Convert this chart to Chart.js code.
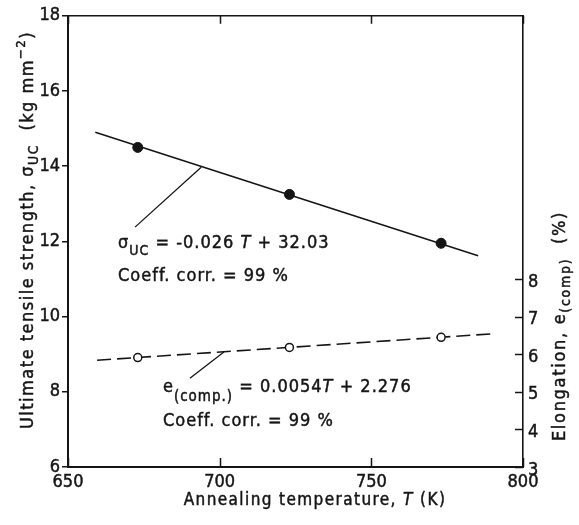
<!DOCTYPE html>
<html>
<head>
<meta charset="utf-8">
<script src="https://cdn.jsdelivr.net/npm/chart.js@4.4.1/dist/chart.umd.min.js"></script>
<style>
  html, body { margin: 0; padding: 0; background: #fff; }
  #wrap { width: 579px; height: 525px; }
</style>
</head>
<body>
<div id="wrap"><canvas id="c" width="579" height="525"></canvas></div>
<script>
const FONT = '"DejaVu Sans Condensed", "Liberation Sans Narrow", "DejaVu Sans", sans-serif';
const INK = '#151515';

// Measured points: annealing temperature (K) vs strength / elongation
const temperatureK = [673, 723, 773];
const strengthUC = [14.5, 13.25, 11.95];        // kg mm^-2
const elongationPct = [5.91, 6.18, 6.45];       // %

// Regression lines (end points)
const strengthFitT = [659, 785.2];
const strengthFitV = [14.90, 11.62];
const elongFitT = [659.6, 789.5];
const elongFitV = [5.84, 6.54];

// Leader lines from the equations to their lines
const strengthLeaderT = [672.1, 693.9];
const strengthLeaderV = [12.38, 13.97];
const elongLeaderT = [690.2, 701.4];
const elongLeaderV = [5.36, 6.06];

// Tick labels
const xTickValues = [650, 700, 750, 800];
const strengthTickValues = [6, 8, 10, 12, 14, 16, 18];
const elongTickValues = [3, 4, 5, 6, 7, 8];

const pts = (xs, ys) => xs.map((x, i) => ({ x, y: ys[i] }));
const setTicks = vals => scale => { scale.ticks = vals.map(v => ({ value: v })); };

function runsWidth(ctx, runs) {
  let w = 0;
  for (const r of runs) { ctx.font = r.font; w += ctx.measureText(r.t).width; }
  return w;
}
function drawRuns(ctx, x, y, runs) {
  let cx = x;
  for (const r of runs) {
    ctx.font = r.font;
    ctx.fillText(r.t, cx, y + (r.dy || 0));
    ctx.strokeText(r.t, cx, y + (r.dy || 0));
    cx += ctx.measureText(r.t).width;
  }
}
const F = (size, style) => (style ? style + ' ' : '') + size + 'px ' + FONT;

const decorations = {
  id: 'decorations',
  afterDraw(chart) {
    const { ctx, chartArea: a, scales } = chart;
    const sx = scales.x, sy = scales.y, sy2 = scales.y2;
    ctx.save();
    ctx.strokeStyle = INK;
    ctx.fillStyle = INK;
    ctx.lineWidth = 1.5;

    // inward ticks on bottom and top edges
    for (const v of xTickValues) {
      const px = Math.round(sx.getPixelForValue(v)) + 0.5;
      ctx.beginPath();
      ctx.moveTo(px, a.bottom); ctx.lineTo(px, a.bottom - 9);
      ctx.moveTo(px, a.top); ctx.lineTo(px, a.top + 8);
      ctx.stroke();
    }
    // inward ticks on the elongation axis
    for (const v of elongTickValues) {
      const py = Math.round(sy2.getPixelForValue(v)) + 0.5;
      ctx.beginPath();
      ctx.moveTo(a.right, py); ctx.lineTo(a.right - 8, py);
      ctx.stroke();
    }

    ctx.textBaseline = 'alphabetic';
    ctx.textAlign = 'left';
    ctx.lineWidth = 0.45;
    try { ctx.letterSpacing = '1px'; } catch (e) {}

    // strength equation
    let x0 = sx.getPixelForValue(666.5), y0 = sy.getPixelForValue(11.83);
    drawRuns(ctx, x0, y0, [
      { t: '\u03C3', font: F(18) },
      { t: 'UC', font: F(14), dy: 7 },
      { t: ' = -0.026 ', font: F(18) },
      { t: 'T', font: F(18, 'italic') },
      { t: ' + 32.03', font: F(18) }
    ]);
    drawRuns(ctx, x0, y0 + 33, [{ t: 'Coeff. corr. = 99 %', font: F(18) }]);

    // elongation equation
    x0 = sx.getPixelForValue(681.3); y0 = sy.getPixelForValue(8.0);
    drawRuns(ctx, x0, y0, [
      { t: 'e', font: F(18) },
      { t: '(comp.)', font: F(15), dy: 9 },
      { t: ' = 0.0054', font: F(18) },
      { t: 'T', font: F(18, 'italic') },
      { t: ' + 2.276', font: F(18) }
    ]);
    drawRuns(ctx, x0, y0 + 34, [{ t: 'Coeff. corr. = 99 %', font: F(18) }]);

    try { ctx.letterSpacing = '1.4px'; } catch (e) {}
    // x axis title
    let runs = [
      { t: 'Annealing temperature, ', font: F(17) },
      { t: 'T', font: F(17, 'italic') },
      { t: ' (K)', font: F(17) }
    ];
    let w = runsWidth(ctx, runs);
    drawRuns(ctx, 315 - w / 2, 505, runs);

    // left axis title
    try { ctx.letterSpacing = '1.5px'; } catch (e) {}
    runs = [
      { t: 'Ultimate tensile strength, ', font: F(18) },
      { t: '\u03C3', font: F(18) },
      { t: 'UC', font: F(14), dy: 5 },
      { t: '  (kg mm', font: F(18) },
      { t: '\u22122', font: F(13), dy: -8 },
      { t: ')', font: F(18) }
    ];
    w = runsWidth(ctx, runs);
    ctx.save();
    ctx.translate(33, 230);
    ctx.rotate(-Math.PI / 2);
    drawRuns(ctx, -w / 2, 0, runs);
    ctx.restore();

    // right axis title
    try { ctx.letterSpacing = '1.7px'; } catch (e) {}
    runs = [
      { t: 'Elongation, e', font: F(18) },
      { t: '(comp)', font: F(14), dy: 5 },
      { t: '  (%)', font: F(18) }
    ];
    w = runsWidth(ctx, runs);
    ctx.save();
    ctx.translate(565, 326);
    ctx.rotate(-Math.PI / 2);
    drawRuns(ctx, -w / 2, 0, runs);
    ctx.restore();

    ctx.restore();
  }
};

const tickFont = { family: FONT, size: 18 };

new Chart(document.getElementById('c'), {
  type: 'scatter',
  data: {
    datasets: [
      {
        data: pts(temperatureK, strengthUC), yAxisID: 'y',
        pointRadius: 5, pointBackgroundColor: INK, pointBorderColor: INK, pointBorderWidth: 1
      },
      {
        data: pts(temperatureK, elongationPct), yAxisID: 'y2',
        pointRadius: 4, pointBackgroundColor: '#fff', pointBorderColor: INK, pointBorderWidth: 1.5
      },
      {
        data: pts(strengthFitT, strengthFitV), yAxisID: 'y', showLine: true,
        pointRadius: 0, borderColor: INK, borderWidth: 1.6
      },
      {
        data: pts(elongFitT, elongFitV), yAxisID: 'y2', showLine: true,
        pointRadius: 0, borderColor: INK, borderWidth: 1.6, borderDash: [14, 6]
      },
      {
        data: pts(strengthLeaderT, strengthLeaderV), yAxisID: 'y', showLine: true,
        pointRadius: 0, borderColor: INK, borderWidth: 1.3
      },
      {
        data: pts(elongLeaderT, elongLeaderV), yAxisID: 'y2', showLine: true,
        pointRadius: 0, borderColor: INK, borderWidth: 1.3
      }
    ]
  },
  options: {
    responsive: false,
    animation: false,
    events: [],
    layout: { padding: 0 },
    plugins: { legend: { display: false }, tooltip: { enabled: false } },
    scales: {
      x: {
        type: 'linear', position: 'bottom', min: 650, max: 800,
        afterBuildTicks: setTicks(xTickValues),
        afterFit: s => { s.height = 58; },
        grid: { display: false, drawTicks: false },
        border: { display: true, color: INK, width: 2 },
        ticks: { padding: 5, color: INK, font: tickFont, maxRotation: 0,
                 textStrokeColor: INK, textStrokeWidth: 0.45 }
      },
      xTop: {
        type: 'linear', position: 'top', min: 650, max: 800,
        afterFit: s => { s.height = 14; },
        grid: { display: false, drawTicks: false },
        border: { display: true, color: INK, width: 1.5 },
        ticks: { display: false }
      },
      y: {
        type: 'linear', position: 'left', min: 6, max: 18,
        afterBuildTicks: setTicks(strengthTickValues),
        afterFit: s => { s.width = 68; },
        grid: { drawOnChartArea: false, tickLength: 6, color: INK, lineWidth: 1.5 },
        border: { display: true, color: INK, width: 2 },
        ticks: { padding: 2, color: INK, font: tickFont,
                 textStrokeColor: INK, textStrokeWidth: 0.45 }
      },
      y2: {
        type: 'linear', position: 'right', min: 3, max: 15,
        afterBuildTicks: setTicks(elongTickValues),
        afterFit: s => { s.width = 56; },
        grid: { display: false, drawTicks: false },
        border: { display: true, color: INK, width: 1.6 },
        ticks: { padding: 5, labelOffset: 3, color: INK, font: tickFont,
                 textStrokeColor: INK, textStrokeWidth: 0.45 }
      }
    }
  },
  plugins: [decorations]
});
</script>
</body>
</html>
